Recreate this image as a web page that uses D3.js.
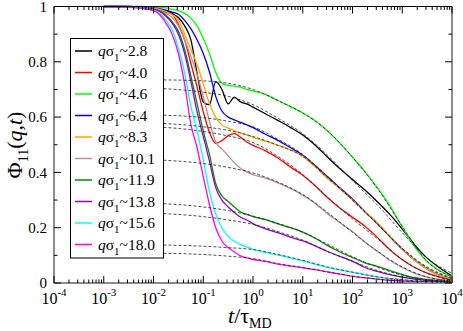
<!DOCTYPE html>
<html>
<head>
<meta charset="utf-8">
<script src="https://cdn.jsdelivr.net/npm/d3@7"></script>
<style>
  body { margin: 0; background: #fff; }
  text { font-family: "Liberation Serif", "Times New Roman", serif; }
</style>
</head>
<body>
<div id="root"></div>
<script>
// time grid (log10 of t/tau_MD) shared by the simulation curves
const logTime = [-3, -2.5, -2.25, -2, -1.875, -1.75, -1.625, -1.5, -1.375, -1.25, -1.125, -1, -0.875, -0.75, -0.625, -0.5, -0.375, -0.25, -0.125, 0, 0.25, 0.5, 0.75, 1, 1.25, 1.5, 1.75, 2, 2.25, 2.5, 2.75, 3, 3.25, 3.5, 3.75, 4]

const qLabels = ["2.8", "4.0", "4.6", "6.4", "8.3", "10.1", "11.9", "13.8", "15.6", "18.0"]
const qColors = ["#000000", "#ff0000", "#00ff00", "#0000ff", "#ffa500", "#bc8f8f", "#008b00", "#9400d3", "#00ffff", "#ff00ff"]

const phiQ28 = [1, 1, 0.998, 0.995, 0.99, 0.985, 0.975, 0.96, 0.93, 0.88, 0.76, 0.655, 0.645, 0.728, 0.70, 0.648, 0.672, 0.655, 0.648, 0.636, 0.612, 0.588, 0.563, 0.535, 0.498, 0.455, 0.413, 0.374, 0.336, 0.294, 0.248, 0.195, 0.138, 0.09, 0.055, 0.025]
const phiQ40 = [1, 0.999, 0.997, 0.992, 0.987, 0.98, 0.972, 0.935, 0.88, 0.795, 0.71, 0.62, 0.545, 0.505, 0.515, 0.533, 0.54, 0.527, 0.51, 0.498, 0.478, 0.452, 0.42, 0.39, 0.352, 0.308, 0.27, 0.238, 0.205, 0.165, 0.12, 0.084, 0.056, 0.036, 0.022, 0.01]
const phiQ46 = [1, 1, 1, 0.998, 0.997, 0.995, 0.99, 0.985, 0.975, 0.958, 0.93, 0.885, 0.83, 0.762, 0.722, 0.715, 0.712, 0.708, 0.70, 0.695, 0.682, 0.66, 0.638, 0.615, 0.587, 0.55, 0.505, 0.455, 0.403, 0.345, 0.28, 0.203, 0.131, 0.078, 0.045, 0.022]
const phiQ64 = [1, 1, 0.998, 0.995, 0.992, 0.987, 0.98, 0.972, 0.95, 0.92, 0.88, 0.83, 0.763, 0.675, 0.622, 0.60, 0.59, 0.581, 0.572, 0.562, 0.538, 0.516, 0.49, 0.462, 0.424, 0.384, 0.344, 0.304, 0.258, 0.215, 0.168, 0.122, 0.082, 0.05, 0.028, 0.014]
const phiQ83 = [1, 0.999, 0.998, 0.994, 0.99, 0.982, 0.97, 0.951, 0.90, 0.845, 0.79, 0.72, 0.648, 0.60, 0.571, 0.56, 0.551, 0.543, 0.535, 0.527, 0.513, 0.498, 0.482, 0.458, 0.42, 0.378, 0.34, 0.30, 0.258, 0.218, 0.17, 0.124, 0.082, 0.05, 0.028, 0.014]
const phiQ101 = [1, 0.999, 0.997, 0.992, 0.985, 0.975, 0.96, 0.93, 0.88, 0.82, 0.755, 0.674, 0.585, 0.51, 0.485, 0.46, 0.435, 0.415, 0.402, 0.392, 0.379, 0.362, 0.342, 0.318, 0.288, 0.25, 0.218, 0.186, 0.148, 0.115, 0.082, 0.056, 0.035, 0.021, 0.013, 0.007]
const phiQ119 = [1, 0.999, 0.996, 0.99, 0.983, 0.968, 0.945, 0.91, 0.845, 0.75, 0.65, 0.55, 0.465, 0.36, 0.315, 0.295, 0.275, 0.257, 0.248, 0.24, 0.229, 0.214, 0.2, 0.184, 0.162, 0.135, 0.112, 0.092, 0.073, 0.06, 0.045, 0.031, 0.019, 0.013, 0.008, 0.005]
const phiQ138 = [1, 0.999, 0.996, 0.99, 0.982, 0.965, 0.94, 0.90, 0.83, 0.73, 0.62, 0.53, 0.44, 0.345, 0.30, 0.275, 0.255, 0.238, 0.228, 0.215, 0.196, 0.182, 0.166, 0.152, 0.134, 0.114, 0.096, 0.079, 0.056, 0.042, 0.03, 0.021, 0.014, 0.009, 0.006, 0.004]
const phiQ156 = [1, 0.998, 0.994, 0.987, 0.975, 0.95, 0.915, 0.85, 0.76, 0.64, 0.55, 0.445, 0.33, 0.25, 0.20, 0.168, 0.151, 0.139, 0.131, 0.122, 0.111, 0.101, 0.091, 0.08, 0.067, 0.056, 0.047, 0.039, 0.03, 0.022, 0.016, 0.012, 0.008, 0.005, 0.003, 0.002]
const phiQ180 = [1, 0.998, 0.993, 0.985, 0.97, 0.94, 0.90, 0.83, 0.72, 0.575, 0.49, 0.385, 0.283, 0.20, 0.152, 0.128, 0.113, 0.098, 0.091, 0.085, 0.078, 0.068, 0.061, 0.055, 0.048, 0.04, 0.032, 0.024, 0.019, 0.014, 0.01, 0.008, 0.005, 0.004, 0.003, 0.002]

// dashed stretched-exponential fits
const fitLogTime = [-2, -1, -0.5, 0, 0.5, 1, 1.5, 2, 2.5, 3, 3.5, 4]
const fitQ28 = [0.705, 0.69, 0.675, 0.645, 0.596, 0.54, 0.462, 0.37, 0.282, 0.182, 0.09, 0.035]
const fitQ40 = [0.566, 0.548, 0.532, 0.508, 0.458, 0.392, 0.31, 0.232, 0.16, 0.085, 0.035, 0.01]
const fitQ46 = [0.735, 0.731, 0.722, 0.70, 0.66, 0.615, 0.55, 0.455, 0.342, 0.205, 0.078, 0.022]
const fitQ64 = [0.608, 0.598, 0.585, 0.565, 0.52, 0.465, 0.385, 0.30, 0.212, 0.125, 0.058, 0.018]
const fitQ83 = [0.579, 0.565, 0.552, 0.53, 0.498, 0.458, 0.38, 0.30, 0.215, 0.125, 0.055, 0.016]
const fitQ101 = [0.446, 0.432, 0.418, 0.398, 0.365, 0.32, 0.255, 0.183, 0.115, 0.058, 0.022, 0.006]
const fitQ119 = [0.289, 0.275, 0.262, 0.242, 0.216, 0.184, 0.14, 0.095, 0.057, 0.028, 0.011, 0.004]
const fitQ138 = [0.253, 0.24, 0.228, 0.212, 0.186, 0.155, 0.114, 0.078, 0.045, 0.022, 0.009, 0.003]
const fitQ156 = [0.138, 0.133, 0.128, 0.121, 0.103, 0.082, 0.058, 0.039, 0.022, 0.012, 0.005, 0.002]
const fitQ180 = [0.108, 0.103, 0.097, 0.088, 0.07, 0.056, 0.04, 0.025, 0.014, 0.007, 0.003, 0.001]

const curves = [phiQ28, phiQ40, phiQ46, phiQ64, phiQ83, phiQ101, phiQ119, phiQ138, phiQ156, phiQ180]
const fits = [fitQ28, fitQ40, fitQ46, fitQ64, fitQ83, fitQ101, fitQ119, fitQ138, fitQ156, fitQ180]

const ROOT = d3.select("#root")
const W = 463, H = 331
const plot = { left: 54, right: 452, top: 6.5, bottom: 283 }

const svg = ROOT.append("svg").attr("width", W).attr("height", H)

const xScale = d3.scaleLog().domain([1e-4, 1e4]).range([plot.left, plot.right])
const yScale = d3.scaleLinear().domain([0, 1]).range([plot.bottom, plot.top])

const line = d3.line()
  .x(d => xScale(Math.pow(10, d[0])))
  .y(d => yScale(d[1]))
  .curve(d3.curveMonotoneX)

// simulation curves
curves.forEach((vals, i) => {
  svg.append("path")
    .attr("d", line(logTime.map((lt, j) => [lt, vals[j]])))
    .attr("fill", "none")
    .attr("stroke", qColors[i])
    .attr("stroke-width", 1.3)
})

// fits
fits.forEach(vals => {
  svg.append("path")
    .attr("d", line(fitLogTime.map((lt, j) => [lt, vals[j]])))
    .attr("fill", "none")
    .attr("stroke", "#222")
    .attr("stroke-width", 0.8)
    .attr("stroke-dasharray", "3,2")
})

// frame
const frame = svg.append("g")
frame.append("line").attr("x1", plot.left).attr("x2", plot.right).attr("y1", plot.top).attr("y2", plot.top)
  .attr("stroke", "#000").attr("stroke-width", 1)
frame.append("line").attr("x1", plot.left).attr("x2", plot.left).attr("y1", plot.top).attr("y2", plot.bottom)
  .attr("stroke", "#8c8c8c").attr("stroke-width", 2)
frame.append("line").attr("x1", plot.right).attr("x2", plot.right).attr("y1", plot.top).attr("y2", plot.bottom)
  .attr("stroke", "#8c8c8c").attr("stroke-width", 2)
frame.append("line").attr("x1", plot.left).attr("x2", plot.right).attr("y1", plot.bottom).attr("y2", plot.bottom)
  .attr("stroke", "#8c8c8c").attr("stroke-width", 2)

// x ticks (log decades + minors), inward on bottom and top
const ticks = svg.append("g").attr("stroke", "#000").attr("stroke-width", 1)
for (let e = -4; e <= 4; e++) {
  const xv = xScale(Math.pow(10, e))
  ticks.append("line").attr("x1", xv).attr("x2", xv).attr("y1", plot.bottom).attr("y2", plot.bottom - 7)
  ticks.append("line").attr("x1", xv).attr("x2", xv).attr("y1", plot.top).attr("y2", plot.top + 7)
  if (e < 4) {
    for (let k = 2; k <= 9; k++) {
      const xm = xScale(k * Math.pow(10, e))
      ticks.append("line").attr("x1", xm).attr("x2", xm).attr("y1", plot.bottom).attr("y2", plot.bottom - 3.5)
      ticks.append("line").attr("x1", xm).attr("x2", xm).attr("y1", plot.top).attr("y2", plot.top + 3.5)
    }
  }
  const lab = svg.append("text")
    .attr("x", xv)
    .attr("y", 304)
    .attr("text-anchor", "middle")
    .attr("font-size", 16)
  lab.append("tspan").text("10")
  lab.append("tspan").attr("dy", -8).attr("font-size", 11).text(e)
}

// y ticks
for (let i = 0; i <= 10; i++) {
  const v = i / 10
  const yv = yScale(v)
  const len = i % 2 === 0 ? 7 : 3.5
  ticks.append("line").attr("x1", plot.left).attr("x2", plot.left + len).attr("y1", yv).attr("y2", yv)
  ticks.append("line").attr("x1", plot.right).attr("x2", plot.right - len).attr("y1", yv).attr("y2", yv)
  if (i % 2 === 0) {
    svg.append("text")
      .attr("x", 47)
      .attr("y", yv)
      .attr("dy", "0.35em")
      .attr("text-anchor", "end")
      .attr("font-size", 15)
      .text(i === 0 ? "0" : i === 10 ? "1" : d3.format(".1f")(v))
  }
}

// axis titles
const xt = svg.append("text").attr("x", 228).attr("y", 323).attr("font-size", 22)
xt.append("tspan").attr("font-style", "italic").text("t")
xt.append("tspan").text("/τ")
xt.append("tspan").attr("dy", 5).attr("font-size", 14).text("MD")

const yt = svg.append("text")
  .attr("transform", "translate(22,145) rotate(-90)")
  .attr("text-anchor", "middle")
  .attr("font-size", 22)
yt.append("tspan").text("Φ")
yt.append("tspan").attr("dy", 6).attr("font-size", 14).text("11")
yt.append("tspan").attr("dy", -6).text("(")
yt.append("tspan").attr("font-style", "italic").text("q")
yt.append("tspan").text(",")
yt.append("tspan").attr("font-style", "italic").text("t")
yt.append("tspan").text(")")

// legend
const legend = svg.append("g")
legend.append("rect")
  .attr("x", 70.5).attr("y", 38.5).attr("width", 93).attr("height", 219.5)
  .attr("fill", "#fff").attr("stroke", "#000").attr("stroke-width", 1)
qLabels.forEach((q, i) => {
  const ly = 51 + i * 21.5
  legend.append("line")
    .attr("x1", 75).attr("x2", 92).attr("y1", ly).attr("y2", ly)
    .attr("stroke", qColors[i]).attr("stroke-width", 1.5)
  const t = legend.append("text").attr("x", 98).attr("y", ly + 5).attr("font-size", 15.5)
  t.append("tspan").attr("font-style", "italic").text("q")
  t.append("tspan").text("σ")
  t.append("tspan").attr("dy", 5).attr("font-size", 11).text("1")
  t.append("tspan").attr("dy", -5).text("~" + q)
})
</script>
</body>
</html>
